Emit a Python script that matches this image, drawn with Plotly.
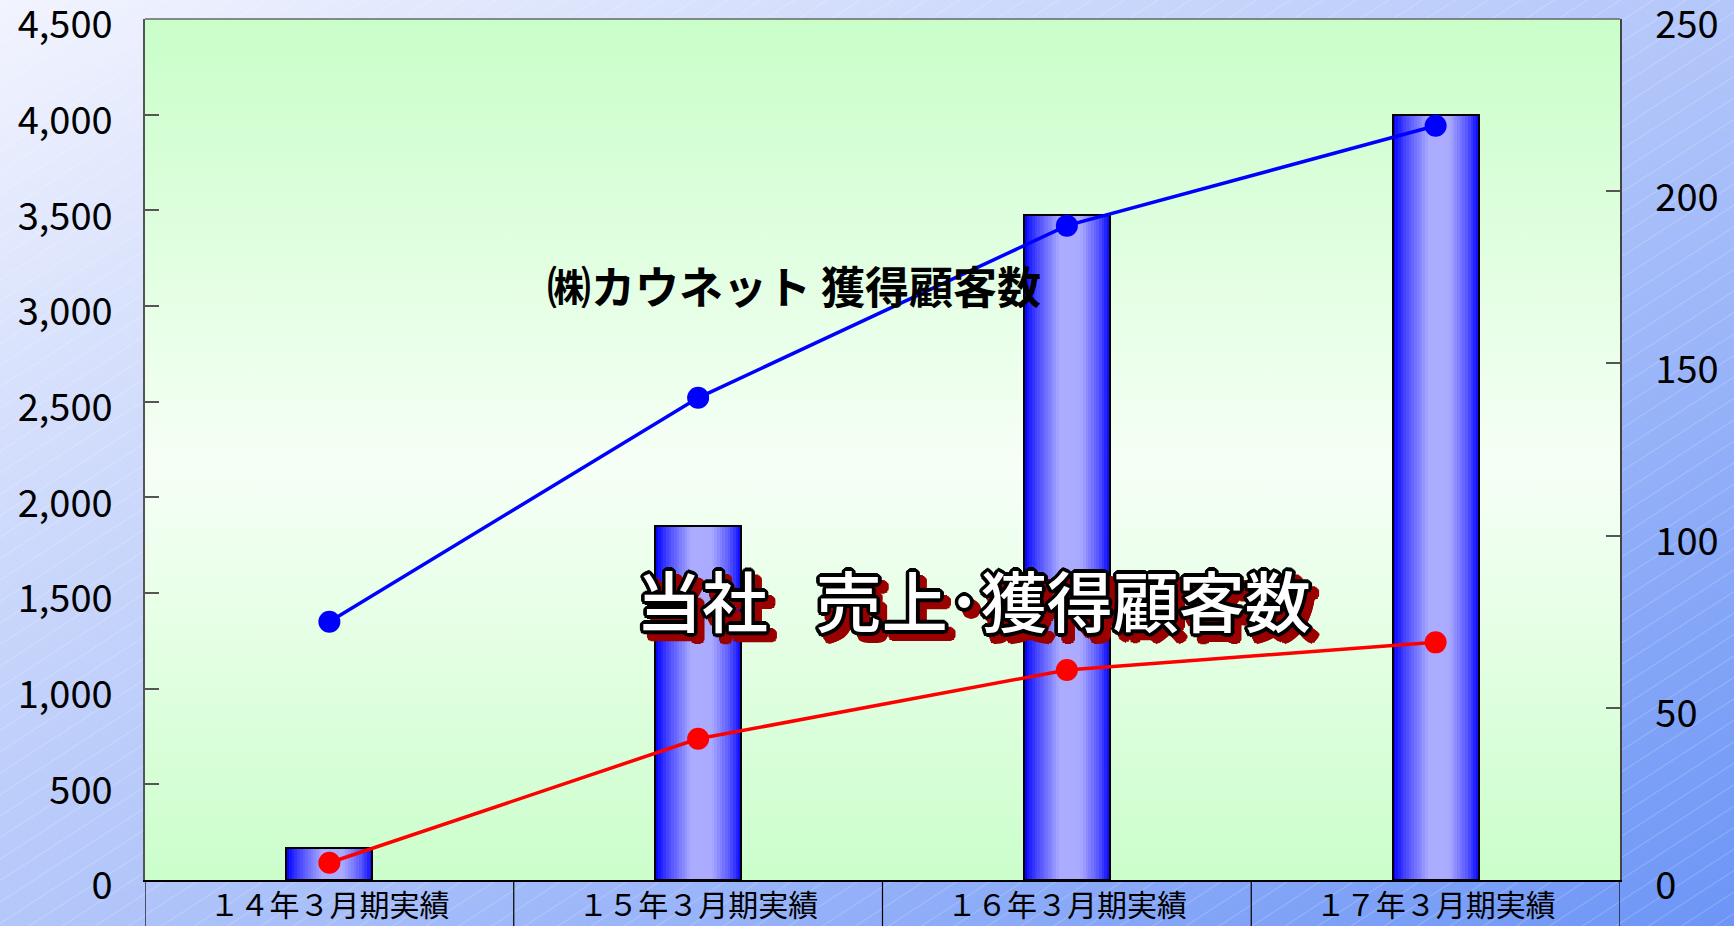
import base64
import math
import plotly.graph_objects as go

# ---- data ----
categories = ["１４年３月期実績", "１５年３月期実績", "１６年３月期実績", "１７年３月期実績"]
sales = [165, 1850, 3475, 4000]                 # 当社 売上 (left axis)
kaunet_clients = [75, 140, 190, 219]            # ㈱カウネット 獲得顧客数 (right axis)
own_clients = [5, 41, 61, 69]                   # 当社 獲得顧客数 (right axis)
left_ticks = list(range(0, 4501, 500))
right_ticks = list(range(0, 251, 50))

# ---- geometry of the page ----
W, H = 1734, 926
ML, MR, MT, MB = 145, 114, 19, 46
PW, PH = W - ML - MR, H - MT - MB
FONT = "Noto Sans CJK JP"
BAR_W = 0.233
N_STRIPES = 32


def svg_uri(svg):
    return "data:image/svg+xml;base64," + base64.b64encode(svg.encode("utf-8")).decode()


# page background: diagonal blue gradient with faint white hatching
page_svg = f"""<svg xmlns="http://www.w3.org/2000/svg" width="{W}" height="{H}" viewBox="0 0 {W} {H}" preserveAspectRatio="none">
<defs>
<linearGradient id="g" x1="0" y1="0" x2="1" y2="1">
<stop offset="0" stop-color="#f2f4fe"/><stop offset="0.5" stop-color="#b4c7fa"/><stop offset="1" stop-color="#6c95f6"/>
</linearGradient>
<pattern id="h" width="18" height="18" patternUnits="userSpaceOnUse" patternTransform="rotate(-33)">
<line x1="0" y1="0.5" x2="18" y2="0.5" stroke="#ffffff" stroke-opacity="0.2" stroke-width="1"/>
</pattern>
</defs>
<rect width="{W}" height="{H}" fill="url(#g)"/>
<rect width="{W}" height="{H}" fill="url(#h)"/>
</svg>"""

# plot area: green -> white -> green vertical gradient
plot_svg = """<svg xmlns="http://www.w3.org/2000/svg" width="100" height="100" viewBox="0 0 100 100" preserveAspectRatio="none">
<defs><linearGradient id="p" x1="0" y1="0" x2="0" y2="1">
<stop offset="0" stop-color="#c9fec9"/><stop offset="0.52" stop-color="#f6fff6"/><stop offset="1" stop-color="#cbfecb"/>
</linearGradient></defs>
<rect width="100" height="100" fill="url(#p)"/>
</svg>"""

# horizontal shading across each bar
bar_stops = [(0.0, (0, 0, 255)), (0.15, (70, 70, 255)), (0.42, (172, 172, 255)),
             (0.66, (170, 170, 255)), (0.86, (90, 90, 255)), (1.0, (8, 8, 255))]


def bar_color(t):
    for (t0, c0), (t1, c1) in zip(bar_stops, bar_stops[1:]):
        if t <= t1:
            f = (t - t0) / (t1 - t0)
            return "rgb(%d,%d,%d)" % tuple(round(a + (b - a) * f) for a, b in zip(c0, c1))
    return "rgb(%d,%d,%d)" % bar_stops[-1][1]


fig = go.Figure()

step = BAR_W / N_STRIPES
for i in range(N_STRIPES):
    fig.add_trace(go.Bar(
        x=categories, y=sales,
        offset=-BAR_W / 2 + i * step,
        width=step * (1.0 if i == N_STRIPES - 1 else 1.4),
        marker=dict(color=bar_color((i + 0.5) / N_STRIPES), line=dict(width=0)),
        hoverinfo="skip", showlegend=False,
    ))

# bar outlines
fig.add_trace(go.Bar(
    x=categories, y=sales, offset=-BAR_W / 2, width=BAR_W,
    marker=dict(color="rgba(0,0,0,0)", line=dict(color="#000000", width=2)),
    showlegend=False, name="当社 売上",
))

fig.add_trace(go.Scatter(
    x=categories, y=kaunet_clients, yaxis="y2", mode="lines+markers",
    line=dict(color="#0000ff", width=3.5), marker=dict(color="#0000ff", size=22),
    showlegend=False, name="㈱カウネット 獲得顧客数",
))
fig.add_trace(go.Scatter(
    x=categories, y=own_clients, yaxis="y2", mode="lines+markers",
    line=dict(color="#ff0000", width=3.5), marker=dict(color="#ff0000", size=22),
    showlegend=False, name="当社 獲得顧客数",
))

# category cell separators under the plot
shapes = []
for k in range(len(categories) + 1):
    shapes.append(dict(type="line", xref="x", yref="paper",
                       x0=k - 0.5, x1=k - 0.5, y0=-MB / PH, y1=0,
                       line=dict(color="#000000", width=1.2)))


def ring(dx0, dy0, r, color, n=16):
    parts = []
    for j in range(n):
        a = 2 * math.pi * j / n
        parts.append(f"{dx0 + r * math.cos(a):.1f}px {dy0 + r * math.sin(a):.1f}px 0 {color}")
    return parts


title_shadow = ", ".join(ring(0, 0, 3.6, "#000000") + ring(0, 0, 2.0, "#000000")
                         + ring(7, 7, 3.6, "#9a0000") + ["7px 7px 0 #9a0000"])

annotations = [
    dict(text="㈱カウネット 獲得顧客数", xref="paper", yref="paper",
         x=(545 - ML) / PW, y=(MT + PH - 285) / PH, xanchor="left", yanchor="middle",
         showarrow=False, font=dict(family=FONT, size=44, color="#000000", weight=700)),
    dict(text="当社\u2002 売上･獲得顧客数", xref="paper", yref="paper",
         x=(973 - ML) / PW, y=(MT + PH - 598) / PH, xanchor="center", yanchor="middle",
         showarrow=False,
         font=dict(family=FONT, size=66, color="#ffffff", weight=500, shadow=title_shadow)),
]

fig.update_layout(
    width=W, height=H, template="none",
    margin=dict(l=ML, r=MR, t=MT, b=MB, pad=0, autoexpand=False),
    paper_bgcolor="#b4c7fa", plot_bgcolor="rgba(0,0,0,0)",
    barmode="overlay", bargap=0, showlegend=False,
    font=dict(family=FONT, color="#000000"),
    images=[
        dict(source=svg_uri(page_svg), xref="paper", yref="paper",
             x=-ML / PW, y=1 + MT / PH, sizex=W / PW, sizey=H / PH,
             xanchor="left", yanchor="top", sizing="stretch", layer="below"),
        dict(source=svg_uri(plot_svg), xref="paper", yref="paper",
             x=0, y=1, sizex=1, sizey=1,
             xanchor="left", yanchor="top", sizing="stretch", layer="below"),
    ],
    xaxis=dict(
        type="category", range=[-0.5, len(categories) - 0.5],
        showgrid=False, zeroline=False, showline=True, linecolor="#000000", linewidth=2,
        ticks="", tickfont=dict(size=30, family=FONT), ticklabelstandoff=-2,
        automargin=False, fixedrange=True,
    ),
    yaxis=dict(
        range=[0, 4500], tickvals=left_ticks, ticktext=[f"{v:,}" for v in left_ticks],
        showgrid=False, zeroline=False, showline=True, linecolor="#555555", linewidth=1.5,
        mirror=False, ticks="inside", ticklen=14, tickcolor="#555555", tickwidth=1.5,
        tickfont=dict(size=38, family=FONT), ticklabelstandoff=23, ticklabelshift=6,
        ticklabeloverflow="allow", automargin=False, fixedrange=True,
    ),
    yaxis2=dict(
        range=[0, 250], tickvals=right_ticks, overlaying="y", side="right",
        showgrid=False, zeroline=False, showline=True, linecolor="#444444", linewidth=1.5,
        ticks="inside", ticklen=14, tickcolor="#555555", tickwidth=1.5,
        tickfont=dict(size=38, family=FONT), ticklabelstandoff=26, ticklabelshift=6,
        ticklabeloverflow="allow", automargin=False, fixedrange=True,
    ),
    shapes=shapes + [dict(type="line", xref="paper", yref="paper", x0=0, x1=1, y0=1, y1=1,
                          line=dict(color="#666666", width=1.5))],
    annotations=annotations,
)

fig.write_html("out.html")
